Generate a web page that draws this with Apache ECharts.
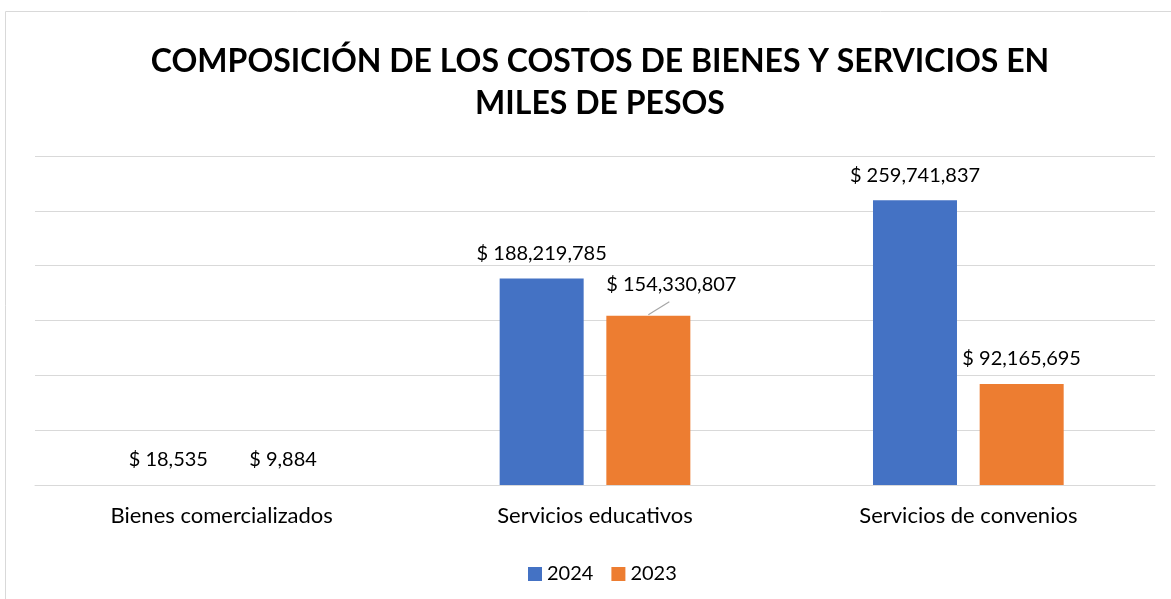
<!DOCTYPE html>
<html>
<head>
<meta charset="utf-8">
<script src="https://cdn.jsdelivr.net/npm/echarts@6/dist/echarts.min.js"></script>
<style>
  html, body { margin: 0; padding: 0; background: #fff; }
  #chart { width: 1171px; height: 599px; }
</style>
</head>
<body>
<div id="chart"></div>
<script>
const categories = ['Bienes comercializados', 'Servicios educativos', 'Servicios de convenios']
const values2024 = [18535, 188219785, 259741837]
const values2023 = [9884, 154330807, 92165695]

const FONT = 'Lato, "Open Sans", sans-serif'
const BAR_W = 0.225   // share of the category band
const BAR_GAP = 0.27  // share of the bar width

function money(v) {
    return '$ ' + v.toLocaleString('en-US')
}

let chart = echarts.init(document.getElementById('chart'))

let labelStyle = {
    show: true,
    position: 'top',
    distance: 15,
    fontFamily: FONT,
    fontSize: 20,
    color: '#000',
    formatter: p => money(p.value)
}

chart.setOption({
    animation: false,
    graphic: [
        {
            type: 'rect',
            shape: { x: 5.5, y: 11.5, width: 1200, height: 620 },
            style: { fill: 'none', stroke: '#d9d9d9', lineWidth: 1 },
            silent: true
        }
    ],
    title: {
        text: 'COMPOSICIÓN DE LOS COSTOS DE BIENES Y SERVICIOS EN\nMILES DE PESOS',
        left: 595,
        textAlign: 'center',
        top: 35,
        textStyle: {
            fontFamily: FONT,
            fontSize: 32,
            fontWeight: 'bold',
            color: '#000',
            lineHeight: 42.5
        }
    },
    legend: {
        top: 559,
        left: 523,
        itemWidth: 14,
        itemHeight: 14,
        itemGap: 18,
        icon: 'rect',
        textStyle: { fontFamily: FONT, fontSize: 20, color: '#000' },
        data: ['2024', '2023']
    },
    grid: {
        left: 35,
        right: 16,
        top: 156,
        bottom: 114,
        containLabel: false
    },
    xAxis: {
        type: 'category',
        data: categories,
        axisTick: { show: false },
        axisLine: { show: true, lineStyle: { color: '#d9d9d9', width: 1 } },
        axisLabel: { fontFamily: FONT, fontSize: 22, color: '#000', margin: 20 }
    },
    yAxis: {
        type: 'value',
        min: 0,
        max: 300000000,
        interval: 50000000,
        axisLabel: { show: false },
        axisLine: { show: false },
        axisTick: { show: false },
        splitLine: { lineStyle: { color: '#d9d9d9', width: 1 } }
    },
    series: [
        {
            name: '2024',
            type: 'bar',
            data: values2024,
            barWidth: BAR_W * 100 + '%',
            barGap: BAR_GAP * 100 + '%',
            itemStyle: { color: '#4472C4' },
            label: labelStyle
        },
        {
            name: '2023',
            type: 'bar',
            data: values2023,
            barWidth: BAR_W * 100 + '%',
            itemStyle: { color: '#ED7D31' },
            label: labelStyle,
            labelLayout: function (p) {
                if (p.dataIndex === 1) return { dx: 23, dy: -6 }
                if (p.dataIndex === 0) return { dx: 8 }
                return {}
            }
        },
        {
            // leader line of the moved 2023 label
            name: 'leader',
            type: 'custom',
            silent: true,
            z: 3,
            data: [[1, values2023[1]]],
            renderItem: function (params, api) {
                let pt = api.coord([api.value(0), api.value(1)])
                let band = api.size([1, 0])[0]
                let cx = pt[0] + band * BAR_W * (1 + BAR_GAP) / 2
                return {
                    type: 'line',
                    shape: { x1: cx, y1: pt[1] - 1, x2: cx + 21, y2: pt[1] - 14 },
                    style: { stroke: '#a6a6a6', lineWidth: 1.2 }
                }
            }
        }
    ]
})
</script>
</body>
</html>
